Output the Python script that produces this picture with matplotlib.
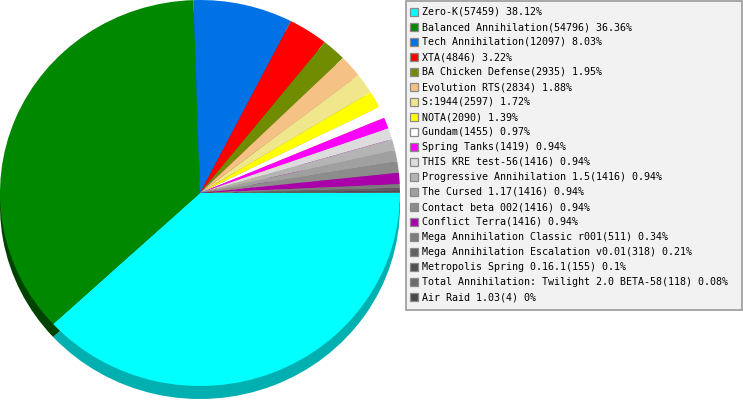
import matplotlib
matplotlib.use("Agg")
import matplotlib.pyplot as plt
from matplotlib.patches import Rectangle

# Games and their player counts
games = [
    "Zero-K", "Balanced Annihilation", "Tech Annihilation", "XTA",
    "BA Chicken Defense", "Evolution RTS", "S:1944", "NOTA", "Gundam",
    "Spring Tanks", "THIS KRE test-56", "Progressive Annihilation 1.5",
    "The Cursed 1.17", "Contact beta 002", "Conflict Terra",
    "Mega Annihilation Classic r001", "Mega Annihilation Escalation v0.01",
    "Metropolis Spring 0.16.1", "Total Annihilation: Twilight 2.0 BETA-58",
    "Air Raid 1.03",
]
counts = [57459, 54796, 12097, 4846, 2935, 2834, 2597, 2090, 1455, 1419,
          1416, 1416, 1416, 1416, 1416, 511, 318, 155, 118, 4]

colors = ["#00FFFF", "#008800", "#0072E6", "#FF0000", "#708C00", "#F5C185",
          "#F0E68C", "#FFFF00", "#FFFFFF", "#FF00FF", "#DCDCDC", "#B4B4B4",
          "#A0A0A0", "#8C8C8C", "#AA00AA", "#7C7C7C", "#626262", "#505050",
          "#6C6C6C", "#484848"]
shade = ["#00AFAF", "#004200", "#004E9E", "#AF0000", "#4D6000", "#A8855C",
         "#A59E60", "#AFAF00", "#AFAFAF", "#AF00AF", "#979797", "#7C7C7C",
         "#6E6E6E", "#606060", "#750075", "#555555", "#434343", "#373737",
         "#4A4A4A", "#313131"]

W, H = 743, 400
fig = plt.figure(figsize=(W / 100, H / 100), dpi=100)

# Pie axes: left part of the figure, slightly squashed ellipse with depth
rx_px, ry_px, cy_px, depth_px = 200.0, 193.0, 193.0, 13.0
ax = fig.add_axes([0, 0, 401 / W, 1])
ax.pie(counts, colors=shade, startangle=0, counterclock=False,
       radius=1, center=(0, -depth_px / ry_px),
       wedgeprops=dict(linewidth=0))
ax.pie(counts, colors=colors, startangle=0, counterclock=False,
       radius=1, center=(0, 0), wedgeprops=dict(linewidth=0))
ax.set_aspect("auto")
ax.set_xlim(-1.0, 1.0 + 1 / rx_px)
top = cy_px / ry_px
ax.set_ylim(top - H / ry_px, top)
ax.axis("off")

# Legend panel drawn in pixel coordinates
lg = fig.add_axes([0, 0, 1, 1])
lg.set_xlim(0, W)
lg.set_ylim(H, 0)
lg.axis("off")
lg.add_patch(Rectangle((405.5, 0.5), 336, 309, facecolor="#F2F2F2",
                       edgecolor="#9A9A9A", linewidth=1.2))

total = sum(counts)
for i, (name, n, c) in enumerate(zip(games, counts, colors)):
    y = 12 + 15 * i
    lg.add_patch(Rectangle((410, y - 4), 8, 8, facecolor=c,
                           edgecolor="#8A8A8A", linewidth=0.9))
    pct = round(100 * n / total, 2)
    label = f"{name}({n}) {pct:g}%"
    lg.text(422, y, label, fontsize=7.2, family="DejaVu Sans Mono",
            va="center", ha="left", color="#000000")

fig.savefig("out.png", dpi=100)
